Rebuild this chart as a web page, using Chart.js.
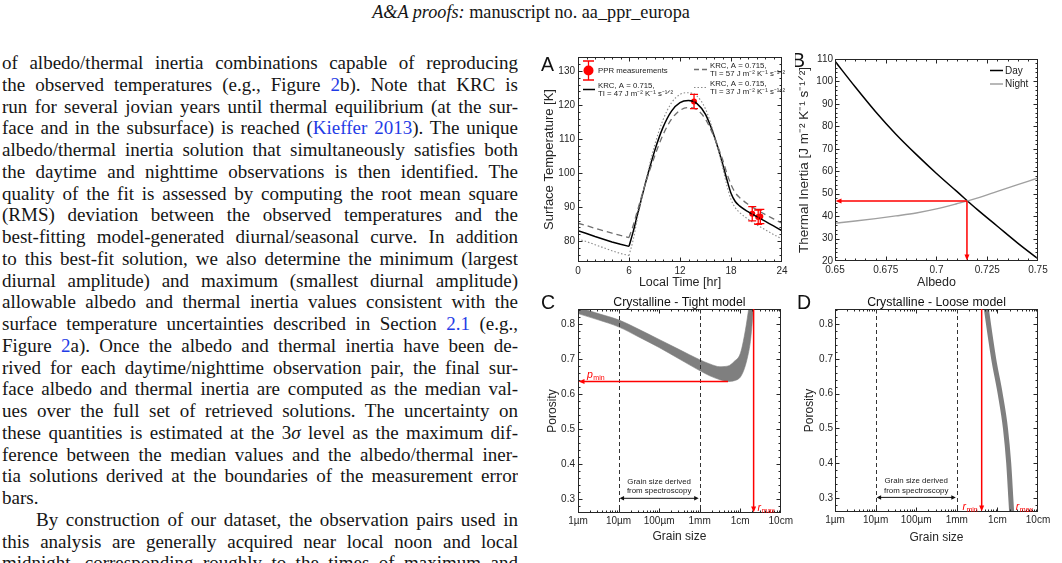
<!DOCTYPE html>
<html><head><meta charset="utf-8">
<script src="https://cdn.jsdelivr.net/npm/chart.js@4.4.1/dist/chart.umd.min.js"></script>
<style>
html,body{margin:0;padding:0;background:#fff;}
body{width:1062px;height:563px;overflow:hidden;position:relative;}
#hdr{position:absolute;left:0;top:2px;width:1062px;text-align:center;font-family:"Liberation Serif","Times New Roman",serif;font-size:18.2px;line-height:20px;color:#151515;}
#col{position:absolute;left:2px;top:52px;width:516px;font-family:"Liberation Serif","Times New Roman",serif;font-size:19px;line-height:21.75px;color:#151515;}
#col .l{text-align:justify;text-align-last:justify;height:21.75px;overflow:hidden;}
#col .e{text-align:left;text-align-last:left;}
#col .ind{text-indent:34px;}
.lk{color:#1f3ce6;}
canvas{position:absolute;}
</style></head><body>
<div id="hdr"><i>A&amp;A proofs:</i> manuscript no. aa_ppr_europa</div>
<div id="col">
<div class="l">of albedo/thermal inertia combinations capable of reproducing</div>
<div class="l">the observed temperatures (e.g., Figure <span class="lk">2</span>b). Note that KRC is</div>
<div class="l">run for several jovian years until thermal equilibrium (at the sur-</div>
<div class="l">face and in the subsurface) is reached (<span class="lk">Kieffer 2013</span>). The unique</div>
<div class="l">albedo/thermal inertia solution that simultaneously satisfies both</div>
<div class="l">the daytime and nighttime observations is then identified. The</div>
<div class="l">quality of the fit is assessed by computing the root mean square</div>
<div class="l">(RMS) deviation between the observed temperatures and the</div>
<div class="l">best-fitting model-generated diurnal/seasonal curve. In addition</div>
<div class="l">to this best-fit solution, we also determine the minimum (largest</div>
<div class="l">diurnal amplitude) and maximum (smallest diurnal amplitude)</div>
<div class="l">allowable albedo and thermal inertia values consistent with the</div>
<div class="l">surface temperature uncertainties described in Section <span class="lk">2.1</span> (e.g.,</div>
<div class="l">Figure <span class="lk">2</span>a). Once the albedo and thermal inertia have been de-</div>
<div class="l">rived for each daytime/nighttime observation pair, the final sur-</div>
<div class="l">face albedo and thermal inertia are computed as the median val-</div>
<div class="l">ues over the full set of retrieved solutions. The uncertainty on</div>
<div class="l">these quantities is estimated at the 3<i>σ</i> level as the maximum dif-</div>
<div class="l">ference between the median values and the albedo/thermal iner-</div>
<div class="l">tia solutions derived at the boundaries of the measurement error</div>
<div class="l e">bars.</div>
<div class="l ind">By construction of our dataset, the observation pairs used in</div>
<div class="l">this analysis are generally acquired near local noon and local</div>
<div class="l">midnight, corresponding roughly to the times of maximum and</div>
</div>
<canvas id="cA" width="265" height="260" style="left:530px;top:40px"></canvas>
<canvas id="cB" width="267" height="260" style="left:795px;top:40px"></canvas>
<canvas id="cC" width="265" height="273" style="left:530px;top:290px"></canvas>
<canvas id="cD" width="267" height="273" style="left:795px;top:290px"></canvas>
<script>
// ================= DATA =================
// Panel A: diurnal surface temperature (KRC models) and PPR measurements
const hoursNight = [0, 1, 2, 3, 4, 5, 6];
const hoursDay = [6, 6.5, 7, 8, 9, 10, 11, 12, 13, 14, 15, 16, 17, 17.5, 18, 18.5, 19, 20, 21, 22, 23, 24];
const tempTI47Night = [83.0, 82.2, 81.3, 80.5, 79.7, 79.0, 78.4];
const tempTI47Day = [78.4, 82.8, 87.8, 97.6, 106.4, 113.4, 118.2, 120.7, 121.3, 120.4, 117.2, 111.0, 102.8, 98.2, 94.0, 91.6, 90.3, 88.6, 87.2, 85.8, 84.4, 83.0];
const tempTI57Night = [85.2, 84.5, 83.7, 83.0, 82.3, 81.6, 81.0];
const tempTI57Day = [81.0, 84.6, 89.0, 97.4, 104.8, 111.2, 115.8, 118.4, 119.2, 118.6, 115.8, 110.6, 104.0, 100.0, 96.6, 94.2, 92.8, 90.8, 89.2, 87.8, 86.5, 85.2];
const tempTI37Night = [80.6, 79.8, 78.9, 78.0, 77.1, 76.3, 75.7];
const tempTI37Day = [75.7, 80.4, 86.8, 98.0, 108.0, 115.6, 120.6, 123.1, 123.6, 122.6, 118.8, 111.4, 101.8, 96.5, 92.2, 89.8, 88.4, 86.4, 84.8, 83.3, 81.9, 80.6];
const pprHours = [13.65, 20.5, 21.2, 21.45];
const pprTemps = [121.0, 88.0, 87.0, 87.2];
const pprErrors = [2.1, 2.1, 2.1, 2.1];
const timeTicks = [0, 6, 12, 18, 24];
const timeTickLabels = ['0', '6', '12', '18', '24'];
const tempTicks = [80, 90, 100, 110, 120, 130];
const tempTickLabels = ['80', '90', '100', '110', '120', '130'];

// Panel B: thermal inertia vs albedo
const albedoValues = [0.65, 0.66, 0.67, 0.68, 0.69, 0.70, 0.71, 0.72, 0.73, 0.74, 0.75];
const tiDay = [109, 97.5, 86.5, 76.5, 67.5, 59, 51, 43, 35.5, 28, 21];
const tiNight = [36.8, 37.8, 38.9, 40.1, 41.4, 43.2, 45.5, 48.0, 51.0, 54.0, 57.0];
const solutionAlbedo = 0.715;
const solutionTI = 46.7;
const albedoTicks = [0.65, 0.675, 0.7, 0.725, 0.75];
const albedoTickLabels = ['0.65', '0.675', '0.7', '0.725', '0.75'];
const tiTicks = [20, 30, 40, 50, 60, 70, 80, 90, 100, 110];
const tiTickLabels = ['20', '30', '40', '50', '60', '70', '80', '90', '100', '110'];

// Panel C: crystalline, tight model (grain size in metres)
const grainTight = [1e-6, 3.16e-6, 1e-5, 3.16e-5, 1e-4, 3.16e-4, 1e-3, 1.78e-3, 3.16e-3, 5.0e-3, 7.1e-3, 1.0e-2, 1.26e-2, 1.58e-2, 1.78e-2, 2.0e-2, 2.2e-2];
const porosityTightUpper = [0.848, 0.830, 0.812, 0.785, 0.756, 0.727, 0.698, 0.686, 0.678, 0.680, 0.693, 0.715, 0.765, 0.835, 0.88, 0.95, 1.0];
const porosityTightLower = [0.830, 0.812, 0.792, 0.763, 0.733, 0.700, 0.667, 0.652, 0.641, 0.636, 0.638, 0.648, 0.672, 0.715, 0.75, 0.81, 0.87];
const pMinTight = 0.636;
const pMinGrainTight = 5.0e-3;
const rMaxTight = 2.14e-2;

// Panel D: crystalline, loose model
const grainLoose = [5.0e-3, 5.4e-3, 8.1e-3, 1.17e-2, 1.58e-2, 1.9e-2, 2.14e-2, 2.24e-2, 2.3e-2];
const porosityLoose = [0.87, 0.84, 0.70, 0.60, 0.50, 0.40, 0.30, 0.26, 0.23];
const rMinLoose = 4.1e-3;
const rMaxLoose = 2.25e-2;

// Shared C/D
const spectroGrain = [1e-5, 1e-3];
const spectroPorosity = 0.302;
const grainTicks = [1e-6, 1e-5, 1e-4, 1e-3, 1e-2, 1e-1];
const grainTickLabels = ['1µm', '10µm', '100µm', '1mm', '1cm', '10cm'];
const porosityTicks = [0.3, 0.4, 0.5, 0.6, 0.7, 0.8];
const porosityTickLabels = ['0.3', '0.4', '0.5', '0.6', '0.7', '0.8'];

// ================= HELPERS =================
const FONT = '"Liberation Sans", Arial, Helvetica, sans-serif';
const INK = '#262626';
const RED = '#ff0000';
const xy = (xs, ys) => xs.map((x, i) => ({x: x, y: ys[i]}));
function range(a, b, s) { const r = []; for (let v = a; v <= b + 1e-9; v += s) r.push(+v.toFixed(6)); return r; }
function logMinor(d0, d1) { const r = []; for (let d = d0; d <= d1; d++) for (let m = 2; m <= 9; m++) r.push(m * Math.pow(10, d)); return r; }

function axis(c) {
  return {
    type: c.type || 'linear', position: c.pos, min: c.min, max: c.max,
    grid: {display: false, drawTicks: false}, border: {display: false},
    afterBuildTicks: s => { s.ticks = c.ticks.map(v => ({value: v})); },
    afterFit: s => { if (c.pos === 'left') s.width = c.fit; else s.height = c.fit; },
    ticks: {autoSkip: false, maxRotation: 0, minRotation: 0, padding: c.tickPad, color: INK,
      font: {family: FONT, size: 10}, callback: (v, i) => c.labels[i]},
    title: {display: true, text: c.title, color: INK, font: {family: FONT, size: c.titleSize || 12},
      padding: c.pos === 'left' ? {top: c.titlePad, bottom: 0} : {top: 0, bottom: c.titlePad}}
  };
}
function baseOptions(scales, padding) {
  return {responsive: false, animation: false, devicePixelRatio: 1, events: [],
    layout: {padding: padding}, scales: scales,
    plugins: {legend: {display: false}, tooltip: {enabled: false}},
    elements: {point: {radius: 0}}};
}
function makeFrame(xMaj, xMin, yMaj, yMin) {
  return {id: 'frame', afterDatasetsDraw(chart) {
    const {ctx, chartArea: a, scales: {x, y}} = chart;
    const L = Math.round(a.left) + 0.5, R = Math.round(a.right) - 0.5, T = Math.round(a.top) + 0.5, B = Math.round(a.bottom) - 0.5;
    ctx.save();
    ctx.strokeStyle = INK; ctx.lineWidth = 1;
    ctx.strokeRect(L, T, R - L, B - T);
    ctx.beginPath();
    const tx = (vals, len) => vals.forEach(v => { const p = Math.round(x.getPixelForValue(v)) + 0.5; if (p < L - 0.1 || p > R + 0.1) return;
      ctx.moveTo(p, B); ctx.lineTo(p, B - len); ctx.moveTo(p, T); ctx.lineTo(p, T + len); });
    const ty = (vals, len) => vals.forEach(v => { const p = Math.round(y.getPixelForValue(v)) + 0.5; if (p < T - 0.1 || p > B + 0.1) return;
      ctx.moveTo(L, p); ctx.lineTo(L + len, p); ctx.moveTo(R, p); ctx.lineTo(R - len, p); });
    tx(xMaj, 4); tx(xMin, 2); ty(yMaj, 4); ty(yMin, 2);
    ctx.stroke();
    ctx.restore();
  }};
}
function head(ctx, x, y, dx, dy, L, W) {
  ctx.beginPath();
  ctx.moveTo(x, y);
  ctx.lineTo(x - dx * L - dy * W / 2, y - dy * L + dx * W / 2);
  ctx.lineTo(x - dx * L + dy * W / 2, y - dy * L - dx * W / 2);
  ctx.closePath(); ctx.fill();
}
function subLabel(ctx, x, y, main, sub, color, alignRight) {
  ctx.fillStyle = color; ctx.textBaseline = 'alphabetic'; ctx.textAlign = 'left';
  ctx.font = 'italic 10.5px ' + FONT; const w1 = ctx.measureText(main).width;
  ctx.font = '7px ' + FONT; const w2 = ctx.measureText(sub).width;
  if (alignRight) x -= w1 + w2 + 0.5;
  ctx.font = 'italic 10.5px ' + FONT; ctx.fillText(main, x, y);
  ctx.font = '7px ' + FONT; ctx.fillText(sub, x + w1 + 0.5, y + 2);
}
function letter(ctx, t, x, y) { ctx.fillStyle = '#111'; ctx.font = '19.5px ' + FONT; ctx.textAlign = 'left'; ctx.textBaseline = 'alphabetic'; ctx.fillText(t, x, y); }
function lineDS(data, st, mono) {
  return {data: data, borderColor: st.c, borderWidth: st.w, borderDash: st.d || [], pointRadius: 0, fill: false,
    tension: 0, cubicInterpolationMode: mono ? 'monotone' : 'default', clip: 0};
}
const solidSt = {c: '#000000', w: 1.5};
const dashSt = {c: '#6e6e6e', w: 1.3, d: [6, 4]};
const dotSt = {c: '#8a8a8a', w: 1.1, d: [1.5, 2]};

// ================= PANEL A =================
const annotA = {id: 'annotA', afterDatasetsDraw(chart) {
  const {ctx, scales: {x, y}} = chart;
  const ox = 530, oy = 40; // canvas offset on page
  ctx.save();
  ctx.strokeStyle = RED; ctx.lineWidth = 1.3;
  pprHours.forEach((h, i) => {
    const px = x.getPixelForValue(h);
    const y1 = y.getPixelForValue(pprTemps[i] - pprErrors[i]);
    const y2 = y.getPixelForValue(pprTemps[i] + pprErrors[i]);
    ctx.beginPath();
    ctx.moveTo(px, y1); ctx.lineTo(px, y2);
    ctx.moveTo(px - 4, y1); ctx.lineTo(px + 4, y1);
    ctx.moveTo(px - 4, y2); ctx.lineTo(px + 4, y2);
    ctx.stroke();
  });
  // legend (left block)
  const mx = 588.5 - ox, my = 70.5 - oy;
  ctx.beginPath(); ctx.moveTo(mx, my - 9.5); ctx.lineTo(mx, my + 9.5);
  ctx.moveTo(mx - 5.5, my - 9.5); ctx.lineTo(mx + 5.5, my - 9.5);
  ctx.moveTo(mx - 5.5, my + 9.5); ctx.lineTo(mx + 5.5, my + 9.5); ctx.stroke();
  ctx.fillStyle = RED; ctx.beginPath(); ctx.arc(mx, my, 5, 0, Math.PI * 2); ctx.fill();
  ctx.font = '7.8px ' + FONT; ctx.fillStyle = '#222'; ctx.textBaseline = 'middle'; ctx.textAlign = 'left';
  ctx.fillText('PPR measurements', 598 - ox, 71 - oy);
  ctx.strokeStyle = '#000'; ctx.lineWidth = 1.5; ctx.setLineDash([]);
  ctx.beginPath(); ctx.moveTo(583 - ox, 89.5 - oy); ctx.lineTo(595 - ox, 89.5 - oy); ctx.stroke();
  ctx.fillStyle = '#222';
  ctx.fillText('KRC, A = 0.715,', 598 - ox, 85.5 - oy);
  ctx.fillText('TI = 47 J m⁻² K⁻¹ s⁻¹ᐟ²', 598 - ox, 93.5 - oy);
  // legend (right block)
  ctx.strokeStyle = dashSt.c; ctx.lineWidth = 1.3; ctx.setLineDash([5, 3]);
  ctx.beginPath(); ctx.moveTo(694 - ox, 69.5 - oy); ctx.lineTo(707 - ox, 69.5 - oy); ctx.stroke();
  ctx.strokeStyle = dotSt.c; ctx.lineWidth = 1.1; ctx.setLineDash([1.5, 2]);
  ctx.beginPath(); ctx.moveTo(694 - ox, 87.5 - oy); ctx.lineTo(707 - ox, 87.5 - oy); ctx.stroke();
  ctx.setLineDash([]);
  ctx.fillText('KRC, A = 0.715,', 710 - ox, 65.5 - oy);
  ctx.fillText('TI = 57 J m⁻² K⁻¹ s⁻¹ᐟ²', 710 - ox, 73.5 - oy);
  ctx.fillText('KRC, A = 0.715,', 710 - ox, 83.5 - oy);
  ctx.fillText('TI = 37 J m⁻² K⁻¹ s⁻¹ᐟ²', 710 - ox, 91.5 - oy);
  letter(ctx, 'A', 541 - ox, 71 - oy);
  ctx.restore();
}};
new Chart(document.getElementById('cA'), {
  type: 'line',
  data: {datasets: [
    lineDS(xy(hoursNight, tempTI37Night), dotSt), lineDS(xy(hoursDay, tempTI37Day), dotSt, true),
    lineDS(xy(hoursNight, tempTI57Night), dashSt), lineDS(xy(hoursDay, tempTI57Day), dashSt, true),
    lineDS(xy(hoursNight, tempTI47Night), solidSt), lineDS(xy(hoursDay, tempTI47Day), solidSt, true),
    {data: xy(pprHours, pprTemps), showLine: false, pointRadius: 3, pointBackgroundColor: RED, pointBorderColor: RED, pointBorderWidth: 0, clip: 0}
  ]},
  options: baseOptions({
    x: axis({pos: 'bottom', min: 0, max: 24, ticks: timeTicks, labels: timeTickLabels, fit: 38, tickPad: 3, title: 'Local Time [hr]', titleSize: 12.5, titlePad: 9.5}),
    y: axis({pos: 'left', min: 73.8, max: 134.1, ticks: tempTicks, labels: tempTickLabels, fit: 48, tickPad: 3, title: 'Surface Temperature [K]', titleSize: 13, titlePad: 11.2})
  }, {left: 0, top: 17, right: 13, bottom: 0}),
  plugins: [makeFrame(timeTicks, range(1, 23, 1), tempTicks, range(74, 134, 2)), annotA]
});

// ================= PANEL B =================
const annotB = {id: 'annotB', afterDatasetsDraw(chart) {
  const {ctx, scales: {x, y}, chartArea: a} = chart;
  const ox = 795, oy = 40;
  const px = x.getPixelForValue(solutionAlbedo), py = y.getPixelForValue(solutionTI);
  ctx.save();
  ctx.strokeStyle = RED; ctx.fillStyle = RED; ctx.lineWidth = 1.5;
  ctx.beginPath(); ctx.moveTo(px, py); ctx.lineTo(a.left + 5, py); ctx.moveTo(px, py); ctx.lineTo(px, a.bottom - 5); ctx.stroke();
  head(ctx, a.left + 0.5, py, -1, 0, 6, 5);
  head(ctx, px, a.bottom - 0.5, 0, 1, 6, 5);
  ctx.lineWidth = 1.5; ctx.strokeStyle = '#000';
  ctx.beginPath(); ctx.moveTo(990 - ox, 70.5 - oy); ctx.lineTo(1003 - ox, 70.5 - oy); ctx.stroke();
  ctx.strokeStyle = '#a0a0a0';
  ctx.beginPath(); ctx.moveTo(990 - ox, 84 - oy); ctx.lineTo(1003 - ox, 84 - oy); ctx.stroke();
  ctx.fillStyle = '#222'; ctx.font = '10px ' + FONT; ctx.textBaseline = 'middle'; ctx.textAlign = 'left';
  ctx.fillText('Day', 1005 - ox, 71 - oy);
  ctx.fillText('Night', 1005 - ox, 84.5 - oy);
  letter(ctx, 'B', 792 - ox, 67 - oy);
  ctx.restore();
}};
new Chart(document.getElementById('cB'), {
  type: 'line',
  data: {datasets: [
    {data: xy(albedoValues, tiNight), borderColor: '#a0a0a0', borderWidth: 1.4, pointRadius: 0, fill: false, cubicInterpolationMode: 'monotone', clip: 0},
    {data: xy(albedoValues, tiDay), borderColor: '#000', borderWidth: 1.5, pointRadius: 0, fill: false, cubicInterpolationMode: 'monotone', clip: 0}
  ]},
  options: baseOptions({
    x: axis({pos: 'bottom', min: 0.65, max: 0.75, ticks: albedoTicks, labels: albedoTickLabels, fit: 39, tickPad: 3.5, title: 'Albedo', titleSize: 12.5, titlePad: 9.5}),
    y: axis({pos: 'left', min: 20, max: 110, ticks: tiTicks, labels: tiTickLabels, fit: 40, tickPad: 2, title: 'Thermal Inertia [J m⁻² K⁻¹ s⁻¹ᐟ²]', titleSize: 13.5, titlePad: 0.9})
  }, {left: 0, top: 19, right: 24, bottom: 0}),
  plugins: [makeFrame(albedoTicks, range(0.655, 0.745, 0.005).filter(v => Math.abs((v - 0.65) / 0.025 - Math.round((v - 0.65) / 0.025)) > 1e-6), tiTicks, range(22, 108, 2).filter(v => v % 10 !== 0)), annotB]
});

// ================= PANEL C / D annotations =================
function drawSpectro(chart) {
  const {ctx, scales: {x, y}, chartArea: a} = chart;
  const x1 = x.getPixelForValue(spectroGrain[0]), x2 = x.getPixelForValue(spectroGrain[1]);
  ctx.strokeStyle = '#333'; ctx.lineWidth = 1; ctx.setLineDash([4, 3]);
  ctx.beginPath();
  [x1, x2].forEach(p => { const q = Math.round(p) + 0.5; ctx.moveTo(q, a.top); ctx.lineTo(q, a.bottom); });
  ctx.stroke(); ctx.setLineDash([]);
  const py = y.getPixelForValue(spectroPorosity);
  ctx.strokeStyle = '#111'; ctx.fillStyle = '#111';
  ctx.beginPath(); ctx.moveTo(x1 + 3, py); ctx.lineTo(x2 - 3, py); ctx.stroke();
  head(ctx, x1 + 1, py, -1, 0, 4.5, 4.5); head(ctx, x2 - 1, py, 1, 0, 4.5, 4.5);
  const xm = x.getPixelForValue(Math.sqrt(spectroGrain[0] * spectroGrain[1]));
  ctx.fillStyle = '#222'; ctx.font = '7.9px ' + FONT; ctx.textAlign = 'center'; ctx.textBaseline = 'middle';
  ctx.fillText('Grain size derived', xm, py - 16.7);
  ctx.fillText('from spectroscopy', xm, py - 7);
}
function panelTitle(chart, t) {
  const {ctx, chartArea: a} = chart;
  ctx.fillStyle = '#111'; ctx.font = '12.3px ' + FONT; ctx.textAlign = 'center'; ctx.textBaseline = 'middle';
  ctx.fillText(t, (a.left + a.right) / 2, a.top - 6);
}
const annotC = {id: 'annotC', afterDatasetsDraw(chart) {
  const {ctx, scales: {x, y}, chartArea: a} = chart;
  ctx.save();
  drawSpectro(chart);
  ctx.strokeStyle = RED; ctx.fillStyle = RED; ctx.lineWidth = 1.5;
  const pr = x.getPixelForValue(rMaxTight);
  ctx.beginPath(); ctx.moveTo(pr, a.top); ctx.lineTo(pr, a.bottom - 5); ctx.stroke();
  head(ctx, pr, a.bottom - 0.5, 0, 1, 6, 5);
  const pyMin = y.getPixelForValue(pMinTight), pxMin = x.getPixelForValue(pMinGrainTight);
  ctx.beginPath(); ctx.moveTo(pxMin, pyMin); ctx.lineTo(a.left + 5, pyMin); ctx.stroke();
  head(ctx, a.left + 0.5, pyMin, -1, 0, 6, 5);
  subLabel(ctx, a.left + 9, pyMin - 3.5, 'p', 'min', RED, false);
  subLabel(ctx, pr + 4, a.bottom - 2.5, 'r', 'max', RED, false);
  panelTitle(chart, 'Crystalline - Tight model');
  letter(ctx, 'C', 541 - 530, 309 - 290);
  ctx.restore();
}};
const annotD = {id: 'annotD', afterDatasetsDraw(chart) {
  const {ctx, scales: {x, y}, chartArea: a} = chart;
  ctx.save();
  drawSpectro(chart);
  ctx.strokeStyle = RED; ctx.fillStyle = RED; ctx.lineWidth = 1.5;
  const pr = x.getPixelForValue(rMinLoose);
  ctx.beginPath(); ctx.moveTo(pr, a.top); ctx.lineTo(pr, a.bottom - 5); ctx.stroke();
  head(ctx, pr, a.bottom - 0.5, 0, 1, 6, 5);
  subLabel(ctx, pr - 4, a.bottom - 2.5, 'r', 'min', RED, true);
  subLabel(ctx, x.getPixelForValue(rMaxLoose) + 4, a.bottom - 2.5, 'r', 'max', RED, false);
  panelTitle(chart, 'Crystalline - Loose model');
  letter(ctx, 'D', 797 - 795, 309 - 290);
  ctx.restore();
}};
function grainAxes(fitX, tickPadY, titlePadX, titlePadY, fitY) {
  return {
    x: axis({type: 'logarithmic', pos: 'bottom', min: 1e-6, max: 1e-1, ticks: grainTicks, labels: grainTickLabels, fit: fitX, tickPad: 2, title: 'Grain size', titlePad: titlePadX}),
    y: axis({pos: 'left', min: 0.26, max: 0.843, ticks: porosityTicks, labels: porosityTickLabels, fit: fitY, tickPad: tickPadY, title: 'Porosity', titlePad: titlePadY})
  };
}
new Chart(document.getElementById('cC'), {
  type: 'line',
  data: {datasets: [
    {data: xy(grainTight, porosityTightLower), borderColor: '#7f7f7f', borderWidth: 0.6, pointRadius: 0, fill: false, cubicInterpolationMode: 'monotone', clip: 0},
    {data: xy(grainTight, porosityTightUpper), borderColor: '#7f7f7f', borderWidth: 0.6, backgroundColor: '#7f7f7f', pointRadius: 0, fill: '-1', cubicInterpolationMode: 'monotone', clip: 0}
  ]},
  options: baseOptions(grainAxes(50, 3, 19.1, 15.5, 48), {left: 0, top: 19, right: 13, bottom: 0}),
  plugins: [makeFrame(grainTicks, logMinor(-6, -2), porosityTicks, range(0.28, 0.84, 0.02).filter(v => Math.abs(v * 10 - Math.round(v * 10)) > 1e-6)), annotC]
});
new Chart(document.getElementById('cD'), {
  type: 'line',
  data: {datasets: [
    {data: xy(grainLoose, porosityLoose), borderColor: '#7f7f7f', borderWidth: 5, pointRadius: 0, fill: false, cubicInterpolationMode: 'monotone', clip: 0}
  ]},
  options: baseOptions(grainAxes(51, 2, 17.8, 7.8, 40), {left: 0, top: 19, right: 24, bottom: 0}),
  plugins: [makeFrame(grainTicks, logMinor(-6, -2), porosityTicks, range(0.28, 0.84, 0.02).filter(v => Math.abs(v * 10 - Math.round(v * 10)) > 1e-6)), annotD]
});
</script>
</body></html>
